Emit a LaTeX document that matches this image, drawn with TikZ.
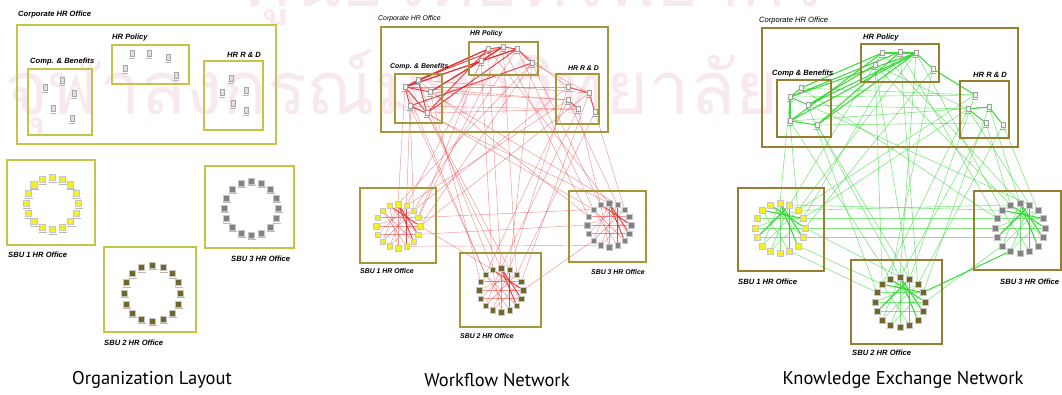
\documentclass[tikz,border=0pt]{standalone}
\usepackage{fontspec}
\setsansfont{Liberation Sans}
\newfontfamily\titlefont{PT Sans}
\newfontfamily\thaifont[Script=Thai]{Loma}

\definecolor{boxA}{RGB}{196,196,70}
\definecolor{boxB}{RGB}{165,150,55}
\definecolor{boxC}{RGB}{150,128,48}
\definecolor{sbuyellow}{RGB}{242,240,40}
\definecolor{sbuolive}{RGB}{112,104,40}
\definecolor{sbugray}{RGB}{130,130,130}
\definecolor{wfred}{RGB}{228,40,40}
\definecolor{kxgreen}{RGB}{45,215,45}
\definecolor{wmark}{RGB}{248,232,239}

\pgfdeclarelayer{back}
\pgfdeclarelayer{edgelayer}
\pgfsetlayers{back,edgelayer,main}

% ring of 16 office squares: name prefix, centre x, centre y, radius, style
\newcommand\officering[5]{%
  \foreach \i in {1,...,16}{%
    \pgfmathsetmacro\ang{90-(\i-1)*22.5}%
    \node[#5] (#1\i) at ({#2+#4*cos(\ang)},{#3-#4*sin(\ang)}) {};
  }}

% connectors between named nodes: prefix, style, list of pairs
\newcommand\links[3]{%
  \begin{pgfonlayer}{edgelayer}
  \foreach \u/\v in {#3} \draw[#2] (#1\u) -- (#1\v);
  \end{pgfonlayer}}

% links inside each of the three SBU rings
\newcommand\ringlinks[3]{%
  \begin{pgfonlayer}{edgelayer}
  \foreach \r in {A,B,D}{%
    \foreach \u/\v in {#3} \draw[#2] (#1\r\u) -- (#1\r\v);
  }
  \end{pgfonlayer}}

\begin{document}
\begin{tikzpicture}[x=1pt,y=-1pt,
  lbl/.style={font=\sffamily\bfseries\itshape\fontsize{7.6}{9}\selectfont, anchor=west, inner sep=0pt},
  lblsmall/.style={lbl, font=\sffamily\bfseries\itshape\fontsize{6.9}{8}\selectfont},
  title/.style={font=\titlefont\fontsize{18.5}{22}\selectfont, inner sep=0pt},
  wm/.style={font=\thaifont\fontsize{74}{80}\selectfont, text=wmark, inner sep=0pt},
  boxone/.style={draw=boxA, line width=1.6pt},
  boxtwo/.style={draw=boxB, line width=1.5pt},
  boxthree/.style={draw=boxC, line width=1.5pt},
  emp/.style={draw=gray!75, fill=gray!10, line width=0.4pt, minimum width=4pt, minimum height=5pt, inner sep=0pt},
  person/.style={draw=gray!70, fill=gray!25, line width=0.4pt, minimum width=4pt, minimum height=6pt, inner sep=0pt},
  sqY/.style={draw=gray!45, fill=sbuyellow, line width=0.3pt, minimum size=#1, inner sep=0pt},
  sqO/.style={draw=gray!45, fill=sbuolive, line width=0.3pt, minimum size=#1, inner sep=0pt},
  sqG/.style={draw=gray!45, fill=sbugray, line width=0.3pt, minimum size=#1, inner sep=0pt},
  labelmark/.style={draw=gray!55, line width=0.9pt},
  redthin/.style={draw=wfred, line width=0.45pt, opacity=0.5},
  redthick/.style={draw=wfred, line width=1pt, opacity=0.85},
  greenthin/.style={draw=kxgreen, line width=0.6pt, opacity=0.6},
  greenthick/.style={draw=kxgreen, line width=1.1pt, opacity=0.9}
]
\useasboundingbox (0,0) rectangle (1062,394);
\begin{pgfonlayer}{back}
\fill[white] (0,0) rectangle (1062,394);
\node[wm, anchor=south] (wmtop) at (535,26) {ศูนย์วิทยทรัพยากร};
\node[wm] (wmbottom) at (392,92) {จุฬาลงกรณ์มหาวิทยาลัย};
\end{pgfonlayer}

% ================= Organization layout =================
\draw[boxone] (17,25) rectangle (276,144);
\draw[boxone] (112,45) rectangle (189,84);
\draw[boxone] (28,69) rectangle (92,135);
\draw[boxone] (204,61) rectangle (263,130);
\draw[boxone] (7,160) rectangle (95,245);
\draw[boxone] (205,166) rectangle (294,248);
\draw[boxone] (104,247) rectangle (196,332);
\node[lbl] (oTcorp) at (18,15) {Corporate HR Office};
\node[lbl] (oTpol) at (112,38) {HR Policy};
\node[lbl] (oTcomp) at (30,62) {Comp. \& Benefits};
\node[lbl] (oTrnd) at (227,55) {HR R \& D};
\node[lbl] (oTs1) at (8,255) {SBU 1 HR Office};
\node[lbl] (oTs3) at (231,259) {SBU 3 HR Office};
\node[lbl] (oTs2) at (104,343) {SBU 2 HR Office};
\foreach \n/\x/\y in {C1/62/80, C2/45/87, C3/74/93, C4/53/108, C5/72/118,
                      P1/132/53, P2/149/53, P3/168/57, P4/125/68, P5/176/75,
                      R1/231/78, R2/222/92, R3/246/90, R4/233/103, R5/246/110}{
  \node[person] (o\n) at (\x,\y) {};
  \draw[labelmark] ([yshift=-2pt,xshift=-1pt]o\n.south west) -- ([yshift=-2pt,xshift=1pt]o\n.south east);
}
\officering{oA}{52}{203}{26}{sqY=6.5pt}
\officering{oB}{152}{293}{28}{sqO=6pt}
\officering{oD}{251}{208}{27}{sqG=6pt}
\foreach \r in {A,B,D}{
  \foreach \i in {1,...,16}{
    \draw[labelmark, line width=0.7pt] ([yshift=-1.6pt]o\r\i.south west) -- ([yshift=-1.6pt,xshift=2pt]o\r\i.south east);
  }
}
\node[title] (oTitle) at (152,380) {Organization Layout};

% ================= Workflow network =================
\draw[boxtwo] (381,27) rectangle (608,132);
\draw[boxtwo] (469,42) rectangle (538,75);
\draw[boxtwo] (395,74) rectangle (442,123);
\draw[boxtwo] (556,74) rectangle (599,124);
\draw[boxtwo] (360,188) rectangle (436,263);
\draw[boxtwo] (569,191) rectangle (646,262);
\draw[boxtwo] (460,253) rectangle (541,327);
\node[lblsmall, font=\sffamily\itshape\fontsize{6.9}{8}\selectfont] (wTcorp) at (378,19) {Corporate HR Office};
\node[lblsmall] (wTpol) at (470,34) {HR Policy};
\node[lblsmall] (wTcomp) at (390,67) {Comp. \& Benefits};
\node[lblsmall] (wTrnd) at (568,68) {HR R \& D};
\node[lblsmall] (wTs1) at (360,271) {SBU 1 HR Office};
\node[lblsmall] (wTs3) at (591,272) {SBU 3 HR Office};
\node[lblsmall] (wTs2) at (460,336) {SBU 2 HR Office};
\foreach \n/\x/\y in {C1/418/80, C2/405/87, C3/430/92, C4/410/106, C5/427/113,
                      P1/488/49, P2/503/47, P3/517/49, P4/532/63, P5/481/61,
                      R1/568/87, R2/589/93, R3/568/100, R4/578/109, R5/595/112}{
  \node[emp] (w\n) at (\x,\y) {};
  \draw[gray!70, line width=0.4pt] ([yshift=-1pt,xshift=-1pt]w\n.south west) -- ([yshift=-1pt,xshift=1pt]w\n.south east);
}
\officering{wA}{398}{226}{22}{sqY=5.5pt}
\officering{wB}{501}{290}{22}{sqO=5.5pt}
\officering{wD}{609}{225}{22}{sqG=5.5pt}
\links{w}{redthick}{C1/P1, C1/P2, C2/P1, C2/P3, C3/P2, C3/P5, C4/P4, C5/P1, C5/P3, C2/P5,
  C1/C2, C2/C4, C2/C5, C1/C5, C4/C5, C2/C3, P1/P2, P2/P3, P3/P4, P5/P3, P5/P2,
  R1/R2, R3/R4, R2/R5}
\links{w}{redthin}{C2/R1, C3/R3, C4/R4, C5/R4, C1/R2, C2/R3, P3/R1, P4/R2,
  C2/A1, C4/A2, C4/A3, C5/B1, C4/B15, C1/D14, C3/D2, P1/A2, P2/A4, P4/B2, P5/B16,
  P3/D15, P1/D1, P2/B3, P4/A1, R1/A3, R2/B4, R3/D2, R4/D16, R5/D3, R1/B2, R3/A2,
  P5/A4, C5/D15, R2/A5, R4/B1, C3/B14, P2/D14, C1/B16, R5/B3, P3/A3, P1/B1, C5/B2,
  R3/B15, P4/D16, C4/D1, C2/B15, P4/A5,
  A8/D10, B5/D11, A6/D13, A5/B16, A4/D15}
\ringlinks{w}{redthin}{1/9, 2/10, 16/6, 14/4, 3/11, 15/8, 2/12, 13/5, 16/9, 3/13, 4/10, 12/6, 1/11, 15/7}
\ringlinks{w}{redthick}{1/7, 2/8, 16/5, 1/6}
\node[title] (wTitle) at (497,380) {Workflow Network};

% ================= Knowledge exchange network =================
\draw[boxthree] (762,28) rectangle (1018,147);
\draw[boxthree] (861,44) rectangle (939,82);
\draw[boxthree] (777,80) rectangle (831,137);
\draw[boxthree] (960,81) rectangle (1009,138);
\draw[boxthree] (738,188) rectangle (824,271);
\draw[boxthree] (974,191) rectangle (1061,270);
\draw[boxthree] (851,260) rectangle (942,344);
\node[lbl, font=\sffamily\itshape\fontsize{7.6}{9}\selectfont] (kTcorp) at (759,21) {Corporate HR Office};
\node[lbl] (kTpol) at (863,38) {HR Policy};
\node[lbl] (kTcomp) at (772,74) {Comp \& Benefits};
\node[lbl] (kTrnd) at (973,75) {HR R \& D};
\node[lbl] (kTs1) at (738,282) {SBU 1 HR Office};
\node[lbl] (kTs3) at (1000,282) {SBU 3 HR Office};
\node[lbl] (kTs2) at (852,353) {SBU 2 HR Office};
\foreach \n/\x/\y in {C1/801/88, C2/790/97, C3/808/105, C4/790/121, C5/817/125,
                      P1/882/53, P2/900/52, P3/916/53, P4/875/65, P5/933/69,
                      R1/975/95, R2/989/107, R3/968/109, R4/986/123, R5/1003/125}{
  \node[emp] (k\n) at (\x,\y) {};
  \draw[gray!70, line width=0.4pt] ([yshift=-1pt,xshift=-1pt]k\n.south west) -- ([yshift=-1pt,xshift=1pt]k\n.south east);
}
\officering{kA}{780}{228}{25}{sqY=6pt}
\officering{kB}{900}{302}{25}{sqO=6pt}
\officering{kD}{1020}{228}{25}{sqG=6pt}
\links{k}{greenthick}{C1/P1, C2/P2, C2/P3, C3/P3, C4/P1, C4/P3, C5/P3, C5/P2, C3/P4,
  C1/C2, C2/C4, C4/C5, C2/C3, P1/P3, P2/P3, P3/P5, P5/R1, R3/R4, R2/R5, R3/R2,
  B4/D10}
\links{k}{greenthin}{C2/R1, C3/R3, C4/R2, C1/R1, P4/R3, C5/R4,
  C2/A1, C4/A3, C5/B1, C5/B2, C3/D2, C1/D14, P1/A2, P2/A4, P4/B2, P5/B16, P3/D15,
  P1/D1, P2/B3, P3/B1, R1/A3, R2/B4, R3/D2, R4/D16, R5/D3, R1/B2, R3/A4, P5/A5,
  R2/D1, R4/B1, C3/B14, P2/D14, C4/B16, R5/B3, P3/A3, P4/B15, R3/B15, P4/D16,
  A2/D15, A4/D14, A5/D13, A6/D12, A3/D16, B5/D11, A7/B15, A8/B14, A5/B1}
\ringlinks{k}{greenthin}{1/9, 2/10, 16/6, 14/4, 3/11, 15/8, 13/5, 3/13, 4/10, 12/6, 1/11}
\ringlinks{k}{greenthick}{1/7, 2/8, 16/5, 1/6, 2/12, 15/4}
\node[title] (kTitle) at (903,380) {Knowledge Exchange Network};
\end{tikzpicture}
\end{document}
